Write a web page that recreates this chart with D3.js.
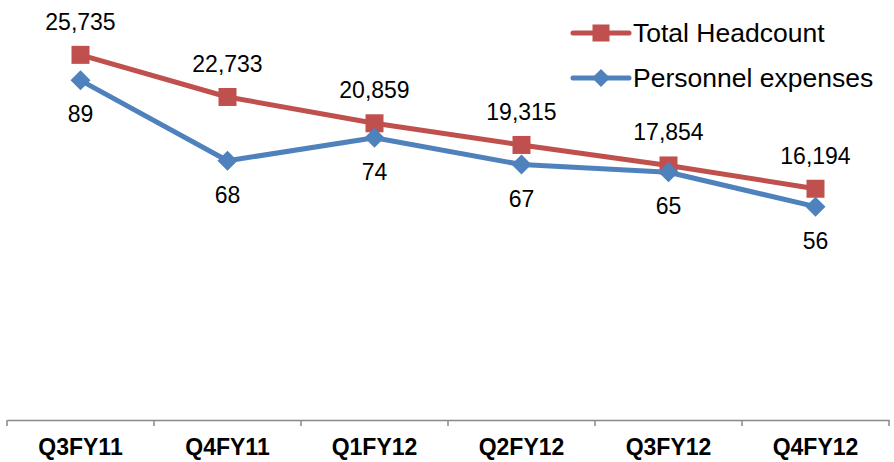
<!DOCTYPE html>
<html>
<head>
<meta charset="utf-8">
<script src="https://cdn.jsdelivr.net/npm/d3@7"></script>
<style>
  html, body { margin: 0; padding: 0; background: #fff; }
  svg { display: block; }
  text { font-family: "Liberation Sans", Arial, sans-serif; fill: #000; }
</style>
</head>
<body>
<svg id="chart" width="894" height="462"></svg>
<script>
const categories = ["Q3FY11", "Q4FY11", "Q1FY12", "Q2FY12", "Q3FY12", "Q4FY12"];
const headcount = [25735, 22733, 20859, 19315, 17854, 16194];
const expenses = [89, 68, 74, 67, 65, 56];
const seriesNames = ["Total Headcount", "Personnel expenses"];

const svg = d3.select("#chart");
const red = "#C0504D", blue = "#4F81BD";

const x = d3.scaleBand().domain(categories).range([7, 889]).padding(0);
const yHead = d3.scaleLinear().domain([0, 30000]).range([416, -5]);
const yExp = d3.scaleLinear().domain([0, 110]).range([421, 0]);
const cx = d => x(d) + x.bandwidth() / 2;

// X axis
const axis = d3.axisBottom(x).tickSize(0).tickSizeOuter(0).tickFormat(() => "");
const gAxis = svg.append("g").attr("transform", "translate(0,420)").call(axis);
gAxis.select(".domain").attr("stroke", "#888").attr("stroke-width", 1.5);
gAxis.selectAll(".tick").remove();
const bounds = categories.map(c => x(c)).concat([x(categories[categories.length - 1]) + x.bandwidth()]);
gAxis.selectAll("line.bound").data(bounds).enter().append("line")
  .attr("class", "bound")
  .attr("x1", d => d).attr("x2", d => d)
  .attr("y1", 0).attr("y2", 6)
  .attr("stroke", "#888").attr("stroke-width", 1.5);
svg.append("g").selectAll("text").data(categories).enter().append("text")
  .attr("x", d => cx(d)).attr("y", 455)
  .attr("text-anchor", "middle")
  .style("font-size", "23px").style("font-weight", "bold")
  .text(d => d);

// Headcount line
const lineH = d3.line().x((d, i) => cx(categories[i])).y(d => yHead(d));
svg.append("path").datum(headcount).attr("d", lineH)
  .attr("fill", "none").attr("stroke", red).attr("stroke-width", 5).attr("stroke-linejoin", "round");
svg.append("g").selectAll("rect").data(headcount).enter().append("rect")
  .attr("x", (d, i) => cx(categories[i]) - 9).attr("y", d => yHead(d) - 9)
  .attr("width", 18).attr("height", 18).attr("fill", red);

// Expenses line
const lineE = d3.line().x((d, i) => cx(categories[i])).y(d => yExp(d));
svg.append("path").datum(expenses).attr("d", lineE)
  .attr("fill", "none").attr("stroke", blue).attr("stroke-width", 5).attr("stroke-linejoin", "round");
svg.append("g").selectAll("path").data(expenses).enter().append("path")
  .attr("transform", (d, i) => `translate(${cx(categories[i])},${yExp(d)})`)
  .attr("d", "M0,-10L10,0L0,10L-10,0Z").attr("fill", blue);

// Data labels
const fmt = d3.format(",");
svg.append("g").selectAll("text").data(headcount).enter().append("text")
  .attr("x", (d, i) => cx(categories[i])).attr("y", d => yHead(d) - 25)
  .attr("text-anchor", "middle").style("font-size", "23px")
  .text(d => fmt(d));
svg.append("g").selectAll("text").data(expenses).enter().append("text")
  .attr("x", (d, i) => cx(categories[i])).attr("y", d => yExp(d) + 42)
  .attr("text-anchor", "middle").style("font-size", "23px")
  .text(d => d);

// Legend
const leg = svg.append("g");
const legY = [33, 78];
leg.append("line").attr("x1", 573).attr("x2", 629).attr("y1", legY[0]).attr("y2", legY[0])
  .attr("stroke", red).attr("stroke-width", 5).attr("stroke-linecap", "round");
leg.append("rect").attr("x", 601 - 8.5).attr("y", legY[0] - 8.5).attr("width", 17).attr("height", 17).attr("fill", red);
leg.append("text").attr("x", 633).attr("y", legY[0] + 9).style("font-size", "26.5px").text(seriesNames[0]);
leg.append("line").attr("x1", 573).attr("x2", 629).attr("y1", legY[1]).attr("y2", legY[1])
  .attr("stroke", blue).attr("stroke-width", 5).attr("stroke-linecap", "round");
leg.append("path").attr("transform", `translate(601,${legY[1]})`).attr("d", "M0,-9L9,0L0,9L-9,0Z").attr("fill", blue);
leg.append("text").attr("x", 633).attr("y", legY[1] + 9).style("font-size", "26.5px").text(seriesNames[1]);
</script>
</body>
</html>
